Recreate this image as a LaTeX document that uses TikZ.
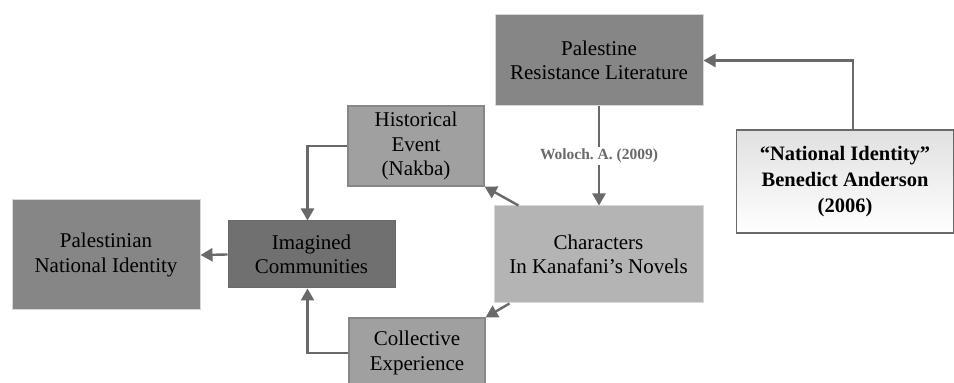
\documentclass[tikz,border=0pt]{standalone}
\usepackage{fontspec}
\setmainfont{Liberation Serif}
\usepackage{tikz}
\usetikzlibrary{arrows.meta}
\definecolor{ln}{RGB}{105, 105, 105}
\definecolor{dk}{RGB}{112, 112, 112}
\definecolor{md}{RGB}{134, 134, 134}
\definecolor{lt}{RGB}{160, 160, 160}
\definecolor{pl}{RGB}{180, 180, 180}
\definecolor{bd}{RGB}{215, 215, 215}

\begin{document}
\begin{tikzpicture}
			[x=1pt,y=1pt,
			box/.style={rectangle, align=center, inner sep=0pt, font=\fontsize{21}{24.5}\selectfont},
			arr/.style={line width=2.4pt, color=ln, -{Triangle[length=12pt,width=13pt]}}]
			\useasboundingbox (0,0) rectangle (954,383);
			\node (pni) [box, minimum width=188pt, minimum height=110pt, fill=md, draw=bd, line width=1pt] at (106, 128)  {Palestinian\\National Identity};
			\node (ic) [box, minimum width=167pt, minimum height=67pt, fill=dk, draw=ln, line width=1pt] at (311.5, 128.5)  {Imagined\\Communities};
			\node (he) [box, minimum width=136pt, minimum height=80pt, fill=lt, draw=ln!80, line width=1.2pt] at (416, 237)  {Historical\\Event\\(Nakba)};
			\node (prl) [box, minimum width=208pt, minimum height=91pt, fill=md, draw=bd, line width=1pt] at (599, 322.5)  {Palestine\\Resistance Literature};
			\node (ckn) [box, minimum width=209pt, minimum height=97pt, fill=pl, draw=bd, line width=1pt] at (598.5, 128.5)  {Characters\\In Kanafani’s Novels};
			\node (ce) [box, minimum width=136pt, minimum height=70pt, fill=lt, draw=ln!80, line width=1.2pt] at (417, 30)  {Collective\\Experience};
			\node (nia) [box, minimum width=217pt, minimum height=103pt, top color=black!12, bottom color=white, draw=ln, line width=1.4pt, font=\fontsize{20.5}{26}\selectfont\bfseries] at (845, 201.5)  {“National Identity”\\Benedict Anderson\\(2006)};
			\draw [arr] ([xshift=8pt]nia.north) |- (prl.east);
			\draw [arr] (prl.south) -- (prl.south |- ckn.north) node[pos=0.5, fill=white, inner sep=2pt, text=ln, font=\fontsize{15.5}{18}\selectfont\bfseries] (wlabel) {Woloch.\ A. (2009)};
			\draw [arr] ([xshift=25pt]ckn.north west) -- (he.south east);
			\draw [arr] (he.west) -| ([xshift=-4pt]ic.north);
			\draw [arr] (ic.west) -- (pni.east);
			\draw [arr] (ce.west) -| ([xshift=-4pt]ic.south);
			\draw [arr] ([xshift=16pt]ckn.south west) -- (ce.north east);
		\end{tikzpicture}
\end{document}
